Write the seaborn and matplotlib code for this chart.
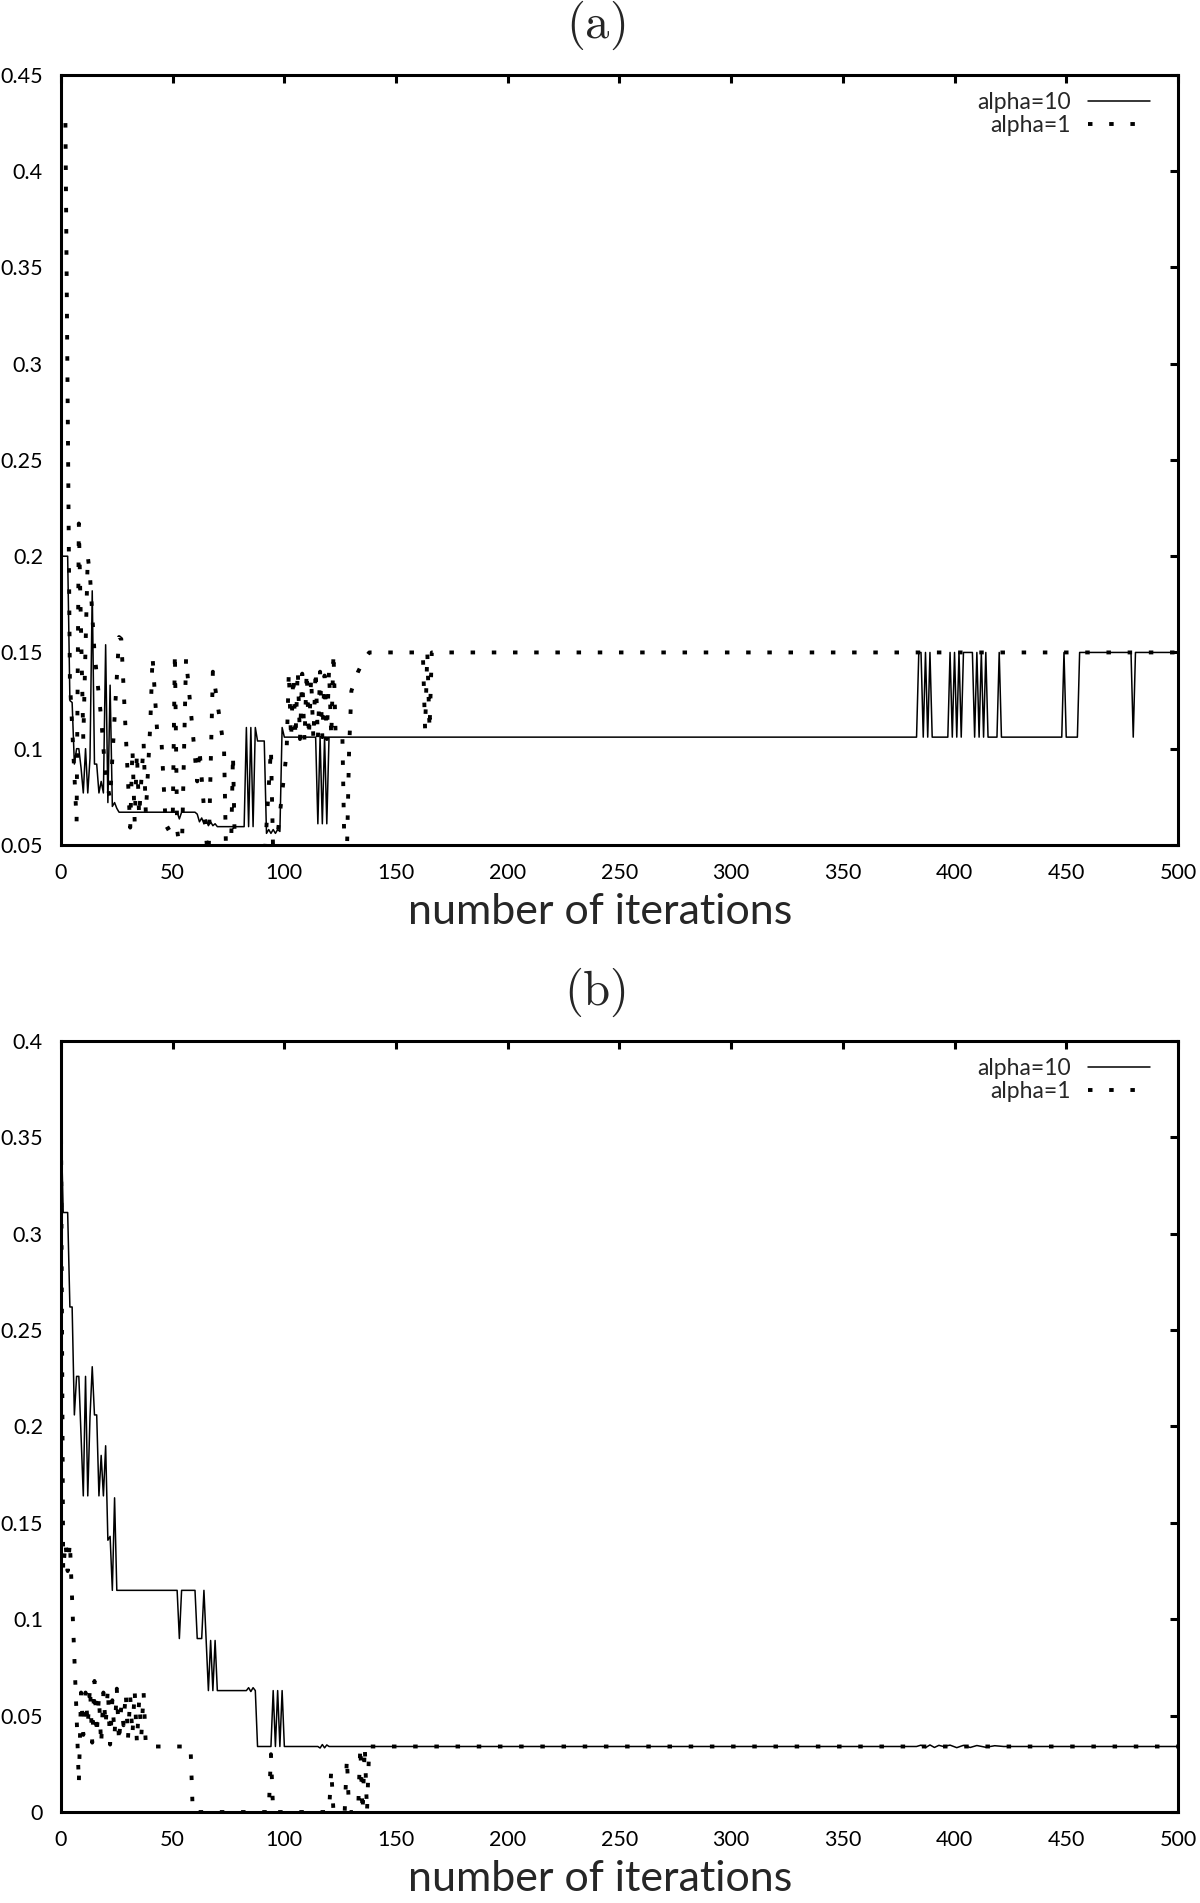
import matplotlib
matplotlib.use('Agg')
import matplotlib.pyplot as plt
import seaborn as sns

# ---- data (iteration, value) ----
# panel (a), alpha=10 (solid)
a10_iter = [0, 3, 4, 5, 6, 7, 8, 9, 10, 11, 12, 13, 14, 15, 16, 17, 18, 19, 20, 21,
            22, 23, 24, 25, 26, 52, 53, 54, 60, 61, 62, 63, 64, 65, 66, 67, 68, 69, 70,
            71, 82, 83, 84, 85, 86, 87, 88, 91, 92, 93, 94, 95, 96, 97, 98, 99, 100,
            114, 115, 116, 117, 118, 119, 120, 383, 384, 385, 386, 387, 388, 389, 390,
            391, 397, 398, 399, 400, 401, 402, 403, 404, 408, 409, 410, 411, 412, 413,
            414, 415, 419, 420, 421, 448, 449, 450, 455, 456, 479, 480, 481, 500]
a10_val = [0.200, 0.200, 0.125, 0.124, 0.092, 0.100, 0.100, 0.090, 0.077, 0.100, 0.077,
           0.095, 0.182, 0.092, 0.092, 0.077, 0.083, 0.077, 0.154, 0.072, 0.133, 0.070,
           0.072, 0.069, 0.067, 0.067, 0.0635, 0.067, 0.067, 0.066, 0.062, 0.064, 0.061,
           0.063, 0.060, 0.062, 0.060, 0.061, 0.0595, 0.0595, 0.0595, 0.111, 0.0595,
           0.111, 0.0595, 0.111, 0.104, 0.104, 0.056, 0.058, 0.056, 0.058, 0.056, 0.058,
           0.057, 0.111, 0.106, 0.106, 0.061, 0.106, 0.061, 0.106, 0.061, 0.106, 0.106,
           0.150, 0.150, 0.106, 0.150, 0.106, 0.150, 0.106, 0.106, 0.106, 0.150, 0.106,
           0.150, 0.106, 0.150, 0.106, 0.150, 0.150, 0.106, 0.150, 0.106, 0.150, 0.106,
           0.150, 0.106, 0.106, 0.150, 0.106, 0.106, 0.150, 0.106, 0.106, 0.150, 0.150,
           0.106, 0.150, 0.150]

# panel (a), alpha=1 (dotted)
a1_iter = [2, 4, 7, 8, 10, 12, 13, 15, 18, 20, 22, 26, 27, 31, 32, 33, 34, 35, 37, 38,
           40, 41, 43, 45, 47, 50, 51, 52, 54, 56, 61, 62, 65, 66, 68, 73, 74, 76, 77,
           78, 91, 94, 95, 96, 101, 102, 103, 104, 105, 106, 107, 108, 109, 110, 111,
           112, 113, 114, 115, 116, 117, 118, 119, 120, 121, 122, 123, 124, 126, 127,
           128, 129, 130, 133, 136, 138, 162, 163, 164, 165, 166, 500]
a1_val = [0.425, 0.136, 0.062, 0.217, 0.105, 0.200, 0.190, 0.150, 0.116, 0.085, 0.074,
          0.158, 0.157, 0.059, 0.100, 0.062, 0.098, 0.065, 0.103, 0.066, 0.113, 0.148,
          0.110, 0.104, 0.058, 0.060, 0.150, 0.058, 0.040, 0.147, 0.083, 0.100, 0.054,
          0.040, 0.140, 0.100, 0.040, 0.040, 0.097, 0.040, 0.040, 0.100, 0.045, 0.045,
          0.098, 0.140, 0.105, 0.138, 0.106, 0.141, 0.105, 0.139, 0.104, 0.140, 0.106,
          0.137, 0.105, 0.141, 0.105, 0.140, 0.106, 0.138, 0.105, 0.141, 0.106, 0.150,
          0.105, 0.106, 0.105, 0.040, 0.045, 0.100, 0.130, 0.140, 0.147, 0.150, 0.150,
          0.110, 0.150, 0.110, 0.150, 0.150]

# panel (b), alpha=10 (solid)
b10_iter = [0, 1, 3, 4, 5, 6, 7, 8, 9, 10, 11, 12, 13, 14, 15, 16, 17, 18, 19, 20, 21,
            22, 23, 24, 25, 52, 53, 54, 60, 61, 63, 64, 66, 67, 68, 69, 70, 83, 84, 85,
            86, 87, 88, 94, 95, 96, 97, 98, 99, 100, 115, 116, 117, 118, 119, 120, 383,
            385, 387, 389, 391, 393, 395, 398, 401, 404, 407, 410, 414, 418, 422, 500]
b10_val = [0.360, 0.311, 0.311, 0.262, 0.262, 0.206, 0.226, 0.226, 0.195, 0.164, 0.226,
           0.164, 0.205, 0.231, 0.206, 0.206, 0.164, 0.185, 0.164, 0.190, 0.141, 0.143,
           0.115, 0.163, 0.115, 0.115, 0.090, 0.115, 0.115, 0.090, 0.090, 0.115, 0.063,
           0.089, 0.063, 0.089, 0.063, 0.063, 0.0645, 0.0625, 0.0645, 0.063, 0.034,
           0.034, 0.063, 0.034, 0.063, 0.034, 0.063, 0.034, 0.034, 0.0332, 0.035,
           0.0333, 0.0348, 0.034, 0.034, 0.0347, 0.0334, 0.0348, 0.0335, 0.0346, 0.034,
           0.0347, 0.0334, 0.0346, 0.0335, 0.0345, 0.0336, 0.0344, 0.034, 0.034]

# panel (b), alpha=1 (dotted)
b1_iter = [0, 1, 2, 3, 4, 5, 6, 7, 8, 9, 10, 11, 12, 13, 14, 15, 16, 17, 18, 19, 20, 21,
           22, 23, 24, 25, 26, 27, 28, 29, 30, 31, 32, 33, 34, 35, 36, 37, 38, 58, 59,
           93, 94, 95, 120, 121, 122, 127, 128, 129, 133, 134, 135, 136, 137, 138, 500]
b1_val = [0.360, 0.125, 0.140, 0.125, 0.140, 0.110, 0.080, 0.050, 0.015, 0.062, 0.040,
          0.062, 0.045, 0.065, 0.036, 0.068, 0.040, 0.060, 0.035, 0.062, 0.045, 0.064,
          0.035, 0.058, 0.040, 0.064, 0.036, 0.055, 0.045, 0.062, 0.038, 0.060, 0.040,
          0.063, 0.036, 0.058, 0.040, 0.062, 0.034, 0.034, 0.000, 0.000, 0.030, 0.000,
          0.000, 0.022, 0.000, 0.000, 0.028, 0.000, 0.000, 0.034, 0.000, 0.034, 0.000,
          0.034, 0.034]

series_labels = ['alpha=10', 'alpha=1']
panel_titles = ['(a)', '(b)']
x_ticks = [0, 50, 100, 150, 200, 250, 300, 350, 400, 450, 500]
a_yticks = [0.05, 0.1, 0.15, 0.2, 0.25, 0.3, 0.35, 0.4, 0.45]
a_ylabels = ['0.05', '0.1', '0.15', '0.2', '0.25', '0.3', '0.35', '0.4', '0.45']
b_yticks = [0, 0.05, 0.1, 0.15, 0.2, 0.25, 0.3, 0.35, 0.4]
b_ylabels = ['0', '0.05', '0.1', '0.15', '0.2', '0.25', '0.3', '0.35', '0.4']
xlabel = 'number of iterations'

sns.set_style('white')
plt.rcParams['font.family'] = ['Lato', 'DejaVu Sans']
plt.rcParams['mathtext.fontset'] = 'cm'

fig = plt.figure(figsize=(12, 19.03), dpi=100)
ax_a = fig.add_axes([0.0508, 0.5560, 0.9308, 0.4046])
ax_b = fig.add_axes([0.0508, 0.0478, 0.9308, 0.4052])

dot_style = (0, (1.15, 4.3))


def draw_panel(ax, it10, v10, it1, v1, yticks, ylabels, title, title_y):
    sns.lineplot(x=it10, y=v10, ax=ax, color='black', linewidth=1.1,
                 label=series_labels[0], sort=False, estimator=None)
    sns.lineplot(x=it1, y=v1, ax=ax, color='black', linewidth=2.8,
                 linestyle=dot_style, dash_capstyle='butt',
                 label=series_labels[1], sort=False, estimator=None)
    ax.set_xlim(0, 500)
    ax.set_ylim(yticks[0], yticks[-1])
    ax.set_xticks(x_ticks)
    ax.set_xticklabels([str(t) for t in x_ticks])
    ax.set_yticks(yticks)
    ax.set_yticklabels(ylabels)
    for s in ax.spines.values():
        s.set_linewidth(2.2)
        s.set_color('black')
    ax.tick_params(direction='in', length=6, width=2.2, top=True, right=True,
                   labelsize=15.5, colors='black')
    ax.tick_params(axis='x', pad=13)
    ax.tick_params(axis='y', pad=13)
    ax.set_xlabel(xlabel, fontsize=31)
    ax.xaxis.set_label_coords(0.4825, -0.087)
    ax.xaxis.label.set_va('center')
    ax.set_ylabel('')
    ax.legend(loc='upper right', bbox_to_anchor=(0.975, 0.978), frameon=False,
              markerfirst=False, handlelength=2.7, handletextpad=0.75,
              borderaxespad=0, borderpad=0, labelspacing=0.1, fontsize=16.5)
    fig.text(0.496, title_y, r'$\mathrm{' + title + '}$', fontsize=35,
             ha='center', va='center')


draw_panel(ax_a, a10_iter, a10_val, a1_iter, a1_val, a_yticks, a_ylabels,
           panel_titles[0], 1 - 25 / 1903)
draw_panel(ax_b, b10_iter, b10_val, b1_iter, b1_val, b_yticks, b_ylabels,
           panel_titles[1], 1 - 992 / 1903)

fig.savefig('out.png', dpi=100)
